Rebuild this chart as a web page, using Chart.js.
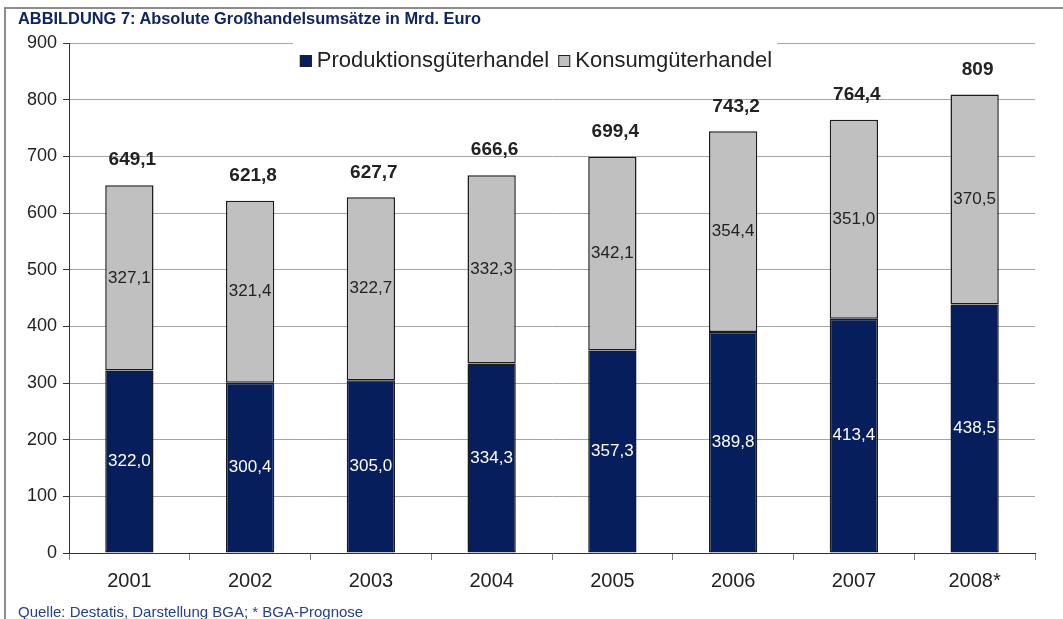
<!DOCTYPE html>
<html lang="de">
<head>
<meta charset="utf-8">
<title>Absolute Großhandelsumsätze</title>
<script src="https://cdn.jsdelivr.net/npm/chart.js@4"></script>
<style>
  html, body { margin: 0; padding: 0; background: #fff; }
  #wrap { position: relative; width: 1063px; height: 619px; overflow: hidden; font-family: "Liberation Sans", Arial, sans-serif; }
  #frame { position: absolute; left: 4px; top: 7px; right: -10px; bottom: -10px; border-top: 2px solid #8c8c8c; border-left: 2px solid #8c8c8c; }
  #title { position: absolute; left: 18px; top: 9px; font-weight: bold; font-size: 16.4px; color: #0d2561; white-space: nowrap; }
  #source { position: absolute; left: 18px; top: 603px; font-size: 15px; color: #24418f; white-space: nowrap; }
  #chartBox { position: absolute; left: 0; top: 0; width: 1063px; height: 619px; }
</style>
</head>
<body>
<div id="wrap">
  <div id="frame"></div>
  <div id="chartBox"><canvas id="umsatz-chart"></canvas></div>
  <div id="title">ABBILDUNG 7: Absolute Großhandelsumsätze in Mrd. Euro</div>
  <div id="source">Quelle: Destatis, Darstellung BGA; * BGA-Prognose</div>
</div>
<script>
const years = ['2001', '2002', '2003', '2004', '2005', '2006', '2007', '2008*'];
const produktion = [322.0, 300.4, 305.0, 334.3, 357.3, 389.8, 413.4, 438.5];
const konsum = [327.1, 321.4, 322.7, 332.3, 342.1, 354.4, 351.0, 370.5];
const gesamt = [649.1, 621.8, 627.7, 666.6, 699.4, 743.2, 764.4, 809];
const seriesNames = ['Produktionsgüterhandel', 'Konsumgüterhandel'];

const FONT = '"Liberation Sans", Arial, sans-serif';
Chart.defaults.font.family = FONT;

const fmt = (v) => Number.isInteger(v) ? String(v) : v.toFixed(1).replace('.', ',');

// value labels inside the segments + totals on top
const barLabels = {
    id: 'barLabels',
    afterDatasetsDraw(chart) {
        const ctx = chart.ctx;
        ctx.save();
        ctx.textAlign = 'center';
        ctx.textBaseline = 'middle';
        chart.data.datasets.forEach((ds, i) => {
            const meta = chart.getDatasetMeta(i);
            ctx.font = '17px ' + FONT;
            ctx.fillStyle = i === 0 ? '#ffffff' : '#222222';
            meta.data.forEach((bar, j) => {
                ctx.fillText(ds.data[j].toFixed(1).replace('.', ','), bar.x, (bar.y + bar.base) / 2);
            });
        });
        const top = chart.getDatasetMeta(chart.data.datasets.length - 1);
        ctx.font = 'bold 19px ' + FONT;
        ctx.fillStyle = '#222222';
        top.data.forEach((bar, j) => {
            ctx.fillText(fmt(gesamt[j]), bar.x + 3, bar.y - 25);
        });
        ctx.restore();
    }
};

// legend drawn over the top gridline with a white background
const legendBox = {
    id: 'legendBox',
    afterDraw(chart) {
        const ctx = chart.ctx;
        ctx.save();
        ctx.font = '22px ' + FONT;
        const items = chart.data.datasets.map(d => ({ label: d.label, color: d.backgroundColor, w: ctx.measureText(d.label).width }));
        const box = 12, gap = 5, sep = 9;
        const total = items.reduce((s, it) => s + box + gap + it.w, 0) + sep * (items.length - 1);
        let x = 536 - total / 2;
        const y = 60;
        ctx.fillStyle = '#ffffff';
        ctx.fillRect(x - 7, 38, total + 12, 36);
        ctx.textBaseline = 'middle';
        items.forEach(it => {
            ctx.fillStyle = it.color;
            ctx.fillRect(x, y - 5, box, box);
            ctx.strokeStyle = '#222222';
            ctx.lineWidth = 1;
            ctx.strokeRect(x + 0.5, y - 4.5, box - 1, box - 1);
            ctx.fillStyle = '#222222';
            ctx.fillText(it.label, x + box + gap, y + 1);
            x += box + gap + it.w + sep;
        });
        ctx.restore();
    }
};

new Chart(document.getElementById('umsatz-chart'), {
    type: 'bar',
    data: {
        labels: years,
        datasets: [{
            label: seriesNames[0],
            data: produktion,
            backgroundColor: '#061f5c',
            borderColor: '#1c1c1c',
            borderWidth: 1.5,
            borderSkipped: false,
            barPercentage: 0.4,
            categoryPercentage: 1.0
        }, {
            label: seriesNames[1],
            data: konsum,
            backgroundColor: '#c0c0c0',
            borderColor: '#1c1c1c',
            borderWidth: 1.5,
            borderSkipped: false,
            barPercentage: 0.4,
            categoryPercentage: 1.0
        }]
    },
    options: {
        responsive: true,
        maintainAspectRatio: false,
        animation: false,
        layout: { padding: { top: 43, right: 28, bottom: 0, left: 0 } },
        scales: {
            x: {
                stacked: true,
                grid: { display: true, drawOnChartArea: false, offset: true, tickLength: 7, color: '#808080' },
                border: { color: '#333333', width: 1 },
                ticks: { color: '#222222', font: { size: 20 }, padding: 9 },
                afterFit: (scale) => { scale.height = 66; }
            },
            y: {
                stacked: true,
                min: 0,
                max: 900,
                grid: { color: '#a6a6a6', tickLength: 6, tickColor: '#333333' },
                border: { color: '#333333', width: 1 },
                ticks: { stepSize: 100, color: '#222222', font: { size: 18 }, padding: 6 },
                afterFit: (scale) => { scale.width = 69; }
            }
        },
        plugins: {
            legend: { display: false },
            title: { display: false },
            tooltip: { enabled: false }
        }
    },
    plugins: [barLabels, legendBox]
});
</script>
</body>
</html>
